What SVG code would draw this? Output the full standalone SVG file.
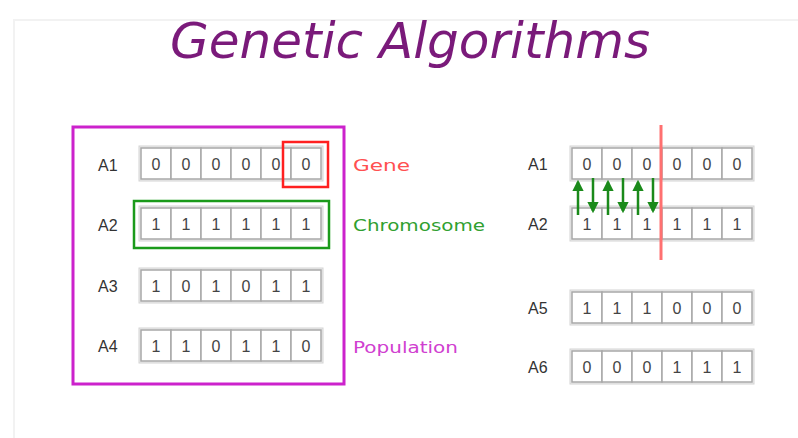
<svg xmlns="http://www.w3.org/2000/svg" width="798" height="438" viewBox="0 0 798 438">
<style>
.bg{fill:#ffffff}
.frame{fill:none;stroke:#f2f2f2;stroke-width:2}
.cell{fill:#ffffff;stroke:#a8a8a8;stroke-width:1.5}
.shade{fill:#ececec;stroke:#d4d4d4;stroke-width:1}
.d{font-family:"Liberation Sans",Arial,sans-serif;font-size:16px;fill:#444;text-anchor:middle}
.lab{font-family:"Liberation Sans",Arial,sans-serif;font-size:16px;fill:#333}
.side{font-family:"DejaVu Sans","Liberation Sans",sans-serif;font-size:16px}
.title{font-family:"DejaVu Sans","Liberation Sans",sans-serif;font-style:italic;font-size:50px;fill:#7a1a7a}
.arr{stroke:#1a8a1a;stroke-width:2.5;fill:none}
</style>
<defs>
<marker id="ah" viewBox="0 0 10 10" refX="8" refY="5" markerWidth="4.5" markerHeight="4.5" orient="auto">
<path d="M0,0 L10,5 L0,10 z" fill="#1a8a1a"/>
</marker>
<g id="row">
<rect class="shade" x="-2" y="-2" width="184" height="35"/>
<rect class="cell" x="0" y="0" width="30" height="31"/>
<rect class="cell" x="30" y="0" width="30" height="31"/>
<rect class="cell" x="60" y="0" width="30" height="31"/>
<rect class="cell" x="90" y="0" width="30" height="31"/>
<rect class="cell" x="120" y="0" width="30" height="31"/>
<rect class="cell" x="150" y="0" width="30" height="31"/>
</g>
</defs>
<rect class="bg" x="0" y="0" width="798" height="438"/>
<rect class="frame" x="14" y="20" width="790" height="430"/>
<text class="title" x="170" y="58" textLength="480" lengthAdjust="spacingAndGlyphs">Genetic Algorithms</text>

<g id="population">
<rect x="73" y="127" width="271" height="257" fill="none" stroke="#cc22cc" stroke-width="3"/>
<text class="side" x="353" y="353" fill="#d040d0" textLength="105" lengthAdjust="spacingAndGlyphs">Population</text>
</g>

<g id="left-A1">
<text class="lab" x="98" y="171">A1</text>
<use href="#row" x="141" y="148"/>
<text class="d" x="156" y="170">0</text><text class="d" x="186" y="170">0</text><text class="d" x="216" y="170">0</text><text class="d" x="246" y="170">0</text><text class="d" x="276" y="170">0</text><text class="d" x="306" y="170">0</text>
</g>
<g id="gene">
<rect x="283" y="142" width="45" height="45" fill="none" stroke="#ff2020" stroke-width="2.5"/>
<text class="side" x="353" y="171" fill="#ff5050" textLength="57" lengthAdjust="spacingAndGlyphs">Gene</text>
</g>
<g id="left-A2">
<text class="lab" x="98" y="231">A2</text>
<use href="#row" x="141" y="208"/>
<text class="d" x="156" y="230">1</text><text class="d" x="186" y="230">1</text><text class="d" x="216" y="230">1</text><text class="d" x="246" y="230">1</text><text class="d" x="276" y="230">1</text><text class="d" x="306" y="230">1</text>
</g>
<g id="chromosome">
<rect x="134" y="201" width="195" height="47" fill="none" stroke="#1a9a1a" stroke-width="2.5"/>
<text class="side" x="353" y="231" fill="#30a030" textLength="132" lengthAdjust="spacingAndGlyphs">Chromosome</text>
</g>
<g id="left-A3">
<text class="lab" x="98" y="292">A3</text>
<use href="#row" x="141" y="270"/>
<text class="d" x="156" y="292">1</text><text class="d" x="186" y="292">0</text><text class="d" x="216" y="292">1</text><text class="d" x="246" y="292">0</text><text class="d" x="276" y="292">1</text><text class="d" x="306" y="292">1</text>
</g>
<g id="left-A4">
<text class="lab" x="98" y="352">A4</text>
<use href="#row" x="141" y="330"/>
<text class="d" x="156" y="352">1</text><text class="d" x="186" y="352">1</text><text class="d" x="216" y="352">0</text><text class="d" x="246" y="352">1</text><text class="d" x="276" y="352">1</text><text class="d" x="306" y="352">0</text>
</g>

<g id="right-A1">
<text class="lab" x="528" y="170">A1</text>
<use href="#row" x="572" y="148"/>
<text class="d" x="587" y="170">0</text><text class="d" x="617" y="170">0</text><text class="d" x="647" y="170">0</text><text class="d" x="677" y="170">0</text><text class="d" x="707" y="170">0</text><text class="d" x="737" y="170">0</text>
</g>
<g id="right-A2">
<text class="lab" x="528" y="230">A2</text>
<use href="#row" x="572" y="208"/>
<text class="d" x="587" y="230">1</text><text class="d" x="617" y="230">1</text><text class="d" x="647" y="230">1</text><text class="d" x="677" y="230">1</text><text class="d" x="707" y="230">1</text><text class="d" x="737" y="230">1</text>
</g>
<g id="right-A5">
<text class="lab" x="528" y="314">A5</text>
<use href="#row" x="572" y="292"/>
<text class="d" x="587" y="314">1</text><text class="d" x="617" y="314">1</text><text class="d" x="647" y="314">1</text><text class="d" x="677" y="314">0</text><text class="d" x="707" y="314">0</text><text class="d" x="737" y="314">0</text>
</g>
<g id="right-A6">
<text class="lab" x="528" y="373">A6</text>
<use href="#row" x="572" y="351"/>
<text class="d" x="587" y="373">0</text><text class="d" x="617" y="373">0</text><text class="d" x="647" y="373">0</text><text class="d" x="677" y="373">1</text><text class="d" x="707" y="373">1</text><text class="d" x="737" y="373">1</text>
</g>

<g id="connectors">
<line x1="661" y1="125" x2="661" y2="260" stroke="#ff7070" stroke-width="3"/>
<line class="arr" x1="578" y1="215" x2="578" y2="182" marker-end="url(#ah)"/>
<line class="arr" x1="593" y1="178" x2="593" y2="211" marker-end="url(#ah)"/>
<line class="arr" x1="608" y1="215" x2="608" y2="182" marker-end="url(#ah)"/>
<line class="arr" x1="623" y1="178" x2="623" y2="211" marker-end="url(#ah)"/>
<line class="arr" x1="638" y1="215" x2="638" y2="182" marker-end="url(#ah)"/>
<line class="arr" x1="653" y1="178" x2="653" y2="211" marker-end="url(#ah)"/>
</g>
</svg>
